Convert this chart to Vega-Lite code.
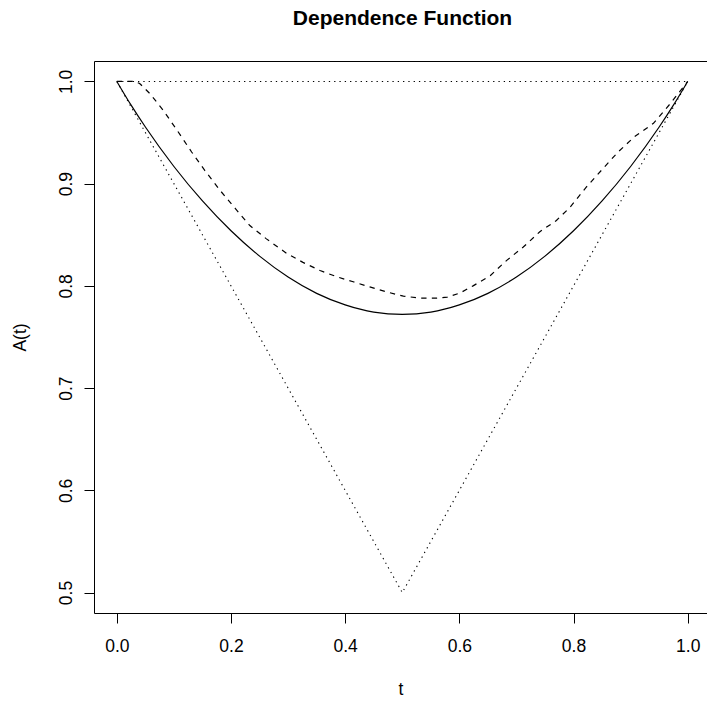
{
  "$schema": "https://vega.github.io/schema/vega-lite/v6.json",
  "width": 613,
  "height": 552,
  "autosize": {"type": "none"},
  "padding": {"left": 94, "top": 61, "right": 0, "bottom": 91},
  "background": "white",
  "config": {
    "view": {"stroke": null},
    "font": "Liberation Sans",
    "axis": {
      "labelFont": "Liberation Sans",
      "titleFont": "Liberation Sans",
      "labelFontSize": 17.5,
      "titleFontSize": 17.5,
      "titleFontWeight": "normal",
      "labelColor": "black",
      "titleColor": "black",
      "domainColor": "black",
      "tickColor": "black",
      "domainWidth": 1,
      "tickWidth": 1,
      "tickSize": 10,
      "grid": false
    }
  },
  "title": {
    "text": "Dependence Function",
    "font": "Liberation Sans",
    "fontSize": 21,
    "fontWeight": "bold",
    "color": "black",
    "anchor": "middle",
    "frame": "group",
    "baseline": "alphabetic",
    "offset": 15,
    "dx": 2
  },
  "data": {
    "values": [
      {"series": "bound", "seg": "top", "t": 0, "A": 1},
      {"series": "bound", "seg": "top", "t": 1, "A": 1},
      {"series": "bound", "seg": "v", "t": 0, "A": 1},
      {"series": "bound", "seg": "v", "t": 0.5, "A": 0.5},
      {"series": "bound", "seg": "v", "t": 1, "A": 1},
      {"series": "fit", "seg": "fit", "t": 0, "A": 1},
      {"series": "fit", "seg": "fit", "t": 0.025, "A": 0.9768},
      {"series": "fit", "seg": "fit", "t": 0.05, "A": 0.9554},
      {"series": "fit", "seg": "fit", "t": 0.1, "A": 0.9168},
      {"series": "fit", "seg": "fit", "t": 0.15, "A": 0.8831},
      {"series": "fit", "seg": "fit", "t": 0.2, "A": 0.8539},
      {"series": "fit", "seg": "fit", "t": 0.25, "A": 0.8291},
      {"series": "fit", "seg": "fit", "t": 0.3, "A": 0.8087},
      {"series": "fit", "seg": "fit", "t": 0.35, "A": 0.7927},
      {"series": "fit", "seg": "fit", "t": 0.4, "A": 0.7814},
      {"series": "fit", "seg": "fit", "t": 0.45, "A": 0.7744},
      {"series": "fit", "seg": "fit", "t": 0.5, "A": 0.7722},
      {"series": "fit", "seg": "fit", "t": 0.55, "A": 0.7744},
      {"series": "fit", "seg": "fit", "t": 0.6, "A": 0.7814},
      {"series": "fit", "seg": "fit", "t": 0.65, "A": 0.7927},
      {"series": "fit", "seg": "fit", "t": 0.7, "A": 0.8087},
      {"series": "fit", "seg": "fit", "t": 0.75, "A": 0.8291},
      {"series": "fit", "seg": "fit", "t": 0.8, "A": 0.8539},
      {"series": "fit", "seg": "fit", "t": 0.85, "A": 0.8831},
      {"series": "fit", "seg": "fit", "t": 0.9, "A": 0.9168},
      {"series": "fit", "seg": "fit", "t": 0.95, "A": 0.9554},
      {"series": "fit", "seg": "fit", "t": 0.975, "A": 0.9768},
      {"series": "fit", "seg": "fit", "t": 1, "A": 1},
      {"series": "emp", "seg": "emp", "t": 0, "A": 1},
      {"series": "emp", "seg": "emp", "t": 0.031, "A": 1},
      {"series": "emp", "seg": "emp", "t": 0.04, "A": 0.998},
      {"series": "emp", "seg": "emp", "t": 0.058, "A": 0.988},
      {"series": "emp", "seg": "emp", "t": 0.081, "A": 0.972},
      {"series": "emp", "seg": "emp", "t": 0.107, "A": 0.951},
      {"series": "emp", "seg": "emp", "t": 0.131, "A": 0.931},
      {"series": "emp", "seg": "emp", "t": 0.154, "A": 0.913},
      {"series": "emp", "seg": "emp", "t": 0.18, "A": 0.894},
      {"series": "emp", "seg": "emp", "t": 0.207, "A": 0.876},
      {"series": "emp", "seg": "emp", "t": 0.233, "A": 0.859},
      {"series": "emp", "seg": "emp", "t": 0.262, "A": 0.846},
      {"series": "emp", "seg": "emp", "t": 0.297, "A": 0.832},
      {"series": "emp", "seg": "emp", "t": 0.326, "A": 0.823},
      {"series": "emp", "seg": "emp", "t": 0.356, "A": 0.815},
      {"series": "emp", "seg": "emp", "t": 0.385, "A": 0.809},
      {"series": "emp", "seg": "emp", "t": 0.414, "A": 0.804},
      {"series": "emp", "seg": "emp", "t": 0.443, "A": 0.799},
      {"series": "emp", "seg": "emp", "t": 0.473, "A": 0.794},
      {"series": "emp", "seg": "emp", "t": 0.502, "A": 0.79},
      {"series": "emp", "seg": "emp", "t": 0.531, "A": 0.788},
      {"series": "emp", "seg": "emp", "t": 0.56, "A": 0.788},
      {"series": "emp", "seg": "emp", "t": 0.579, "A": 0.789},
      {"series": "emp", "seg": "emp", "t": 0.601, "A": 0.793},
      {"series": "emp", "seg": "emp", "t": 0.624, "A": 0.8},
      {"series": "emp", "seg": "emp", "t": 0.654, "A": 0.81},
      {"series": "emp", "seg": "emp", "t": 0.683, "A": 0.825},
      {"series": "emp", "seg": "emp", "t": 0.712, "A": 0.838},
      {"series": "emp", "seg": "emp", "t": 0.741, "A": 0.853},
      {"series": "emp", "seg": "emp", "t": 0.77, "A": 0.864},
      {"series": "emp", "seg": "emp", "t": 0.794, "A": 0.877},
      {"series": "emp", "seg": "emp", "t": 0.823, "A": 0.897},
      {"series": "emp", "seg": "emp", "t": 0.852, "A": 0.915},
      {"series": "emp", "seg": "emp", "t": 0.878, "A": 0.931},
      {"series": "emp", "seg": "emp", "t": 0.907, "A": 0.946},
      {"series": "emp", "seg": "emp", "t": 0.94, "A": 0.959},
      {"series": "emp", "seg": "emp", "t": 0.969, "A": 0.978},
      {"series": "emp", "seg": "emp", "t": 0.983, "A": 0.988},
      {"series": "emp", "seg": "emp", "t": 1, "A": 1}
    ]
  },
  "layer": [
    {
      "transform": [{"filter": "datum.series === 'bound'"}],
      "mark": {"type": "line", "color": "black", "strokeWidth": 1.1, "strokeDash": [1.3, 4], "clip": true},
      "encoding": {
        "x": {
          "field": "t", "type": "quantitative",
          "scale": {"domain": [-0.04, 1.0338], "nice": false, "zero": false},
          "axis": {
            "orient": "bottom",
            "values": [0, 0.2, 0.4, 0.6, 0.8, 1.0],
            "format": ".1f",
            "labelBaseline": "alphabetic",
            "labelPadding": 28.5,
            "labelFlush": false,
            "labelOverlap": false,
            "title": "t",
            "titleY": 81,
            "titleBaseline": "alphabetic"
          }
        },
        "y": {
          "field": "A", "type": "quantitative",
          "scale": {"domain": [0.48, 1.02], "nice": false, "zero": false},
          "axis": {
            "orient": "left",
            "values": [0.5, 0.6, 0.7, 0.8, 0.9, 1.0],
            "format": ".1f",
            "labelAngle": -90,
            "labelAlign": "center",
            "labelBaseline": "alphabetic",
            "labelPadding": 13,
            "labelFlush": false,
            "labelOverlap": false,
            "title": "A(t)",
            "titleAngle": -90,
            "titleX": -68.5,
            "titleY": 276,
            "titleAlign": "center",
            "titleBaseline": "alphabetic"
          }
        },
        "detail": {"field": "seg", "type": "nominal"},
        "order": {"field": "t", "type": "quantitative"}
      }
    },
    {
      "transform": [{"filter": "datum.series === 'fit'"}],
      "mark": {"type": "line", "color": "black", "strokeWidth": 1.2, "interpolate": "monotone", "clip": true},
      "encoding": {
        "x": {
          "field": "t", "type": "quantitative",
          "axis": {"orient": "top", "labels": false, "ticks": false, "title": null, "domain": true}
        },
        "y": {"field": "A", "type": "quantitative", "axis": null},
        "order": {"field": "t", "type": "quantitative"}
      }
    },
    {
      "transform": [{"filter": "datum.series === 'emp'"}],
      "mark": {"type": "line", "color": "black", "strokeWidth": 1.2, "strokeDash": [5.3, 5.3], "clip": true},
      "encoding": {
        "x": {"field": "t", "type": "quantitative", "axis": null},
        "y": {"field": "A", "type": "quantitative", "axis": null},
        "order": {"field": "t", "type": "quantitative"}
      }
    }
  ],
  "resolve": {"axis": {"x": "independent", "y": "independent"}}
}
